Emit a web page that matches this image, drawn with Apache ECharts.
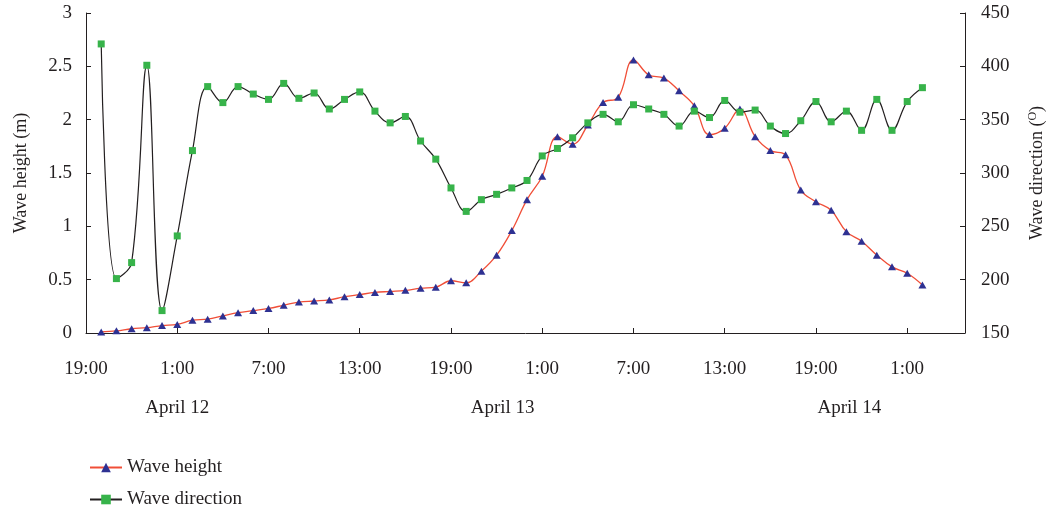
<!DOCTYPE html>
<html>
<head>
<meta charset="utf-8">
<script src="https://cdn.jsdelivr.net/npm/echarts@6/dist/echarts.min.js"></script>
<style>
html,body{margin:0;padding:0;background:#fff;}
#c{width:1046px;height:513px;}
</style>
</head>
<body>
<div id="c"></div>
<script>
// hours elapsed since 19:00 April 11
const hours = [1,2,3,4,5,6,7,8,9,10,11,12,13,14,15,16,17,18,19,20,21,22,23,24,25,26,27,28,29,30,31,32,33,34,35,36,37,38,39,40,41,42,43,44,45,46,47,48,49,50,51,52,53,54,55];
const waveHeight = [0.01,0.02,0.04,0.05,0.07,0.08,0.12,0.13,0.16,0.19,0.21,0.23,0.26,0.29,0.30,0.31,0.34,0.36,0.38,0.39,0.40,0.42,0.43,0.49,0.47,0.58,0.73,0.96,1.25,1.47,1.84,1.77,1.95,2.16,2.21,2.56,2.42,2.39,2.27,2.13,1.86,1.92,2.10,1.84,1.71,1.67,1.34,1.23,1.15,0.95,0.86,0.73,0.62,0.56,0.45];
const waveDirection = [421,201,216,401,171,241,321,381,366,381,374,369,384,370,375,360,369,376,358,347,353,330,313,286,264,275,280,286,293,316,323,333,347,355,348,364,360,355,344,358,352,368,357,359,344,337,349,367,348,358,340,369,340,367,380];
const tickLabels = ['19:00','1:00','7:00','13:00','19:00','1:00','7:00','13:00','19:00','1:00'];
const dayLabels = ['April 12','April 13','April 14'];
const dayLabelHours = [6,27.4,50.2];

const FONT = 'Liberation Serif';
const TXT = '#231F20';
const chart = echarts.init(document.getElementById('c'));

const legendBase = {
  orient: 'vertical', left: 84, itemWidth: 32, itemHeight: 12,
  textStyle: {fontFamily: FONT, fontSize: 19, color: TXT}
};

const option = {
  animation: false,
  backgroundColor: '#fff',
  textStyle: {fontFamily: FONT, color: TXT},
  grid: {left: 86, right: 81, top: 13, bottom: 180, outerBoundsMode: 'none', containLabel: false},
  legend: [
    Object.assign({}, legendBase, {top: 453, data: ['Wave height']}),
    Object.assign({}, legendBase, {top: 485, data: ['Wave direction']})
  ],
  xAxis: {
    type: 'value', min: 0, max: 57.8, interval: 6,
    axisLine: {lineStyle: {color: TXT, width: 1}},
    axisTick: {inside: true, length: 5, lineStyle: {color: TXT}},
    splitLine: {show: false},
    axisLabel: {
      showMaxLabel: false, margin: 27, fontSize: 19, fontFamily: FONT, color: TXT,
      formatter: v => (Math.abs(v % 6) < 1e-6 ? (tickLabels[Math.round(v / 6)] || '') : '')
    }
  },
  yAxis: [
    {
      type: 'value', min: 0, max: 3, interval: 0.5,
      name: 'Wave height (m)', nameLocation: 'middle', nameGap: 56, nameRotate: 90,
      nameTextStyle: {fontFamily: FONT, fontSize: 18, color: TXT},
      axisLine: {show: true, lineStyle: {color: TXT}},
      axisTick: {show: true, inside: true, length: 5, lineStyle: {color: TXT}},
      splitLine: {show: false},
      axisLabel: {margin: 14, fontSize: 19, fontFamily: FONT, color: TXT}
    },
    {
      type: 'value', min: 150, max: 450, interval: 50, position: 'right',
      name: 'Wave direction ({sup|O})', nameLocation: 'middle', nameGap: 62, nameRotate: 90,
      nameTextStyle: {fontFamily: FONT, fontSize: 18, color: TXT,
        rich: {sup: {fontFamily: FONT, fontSize: 12, color: TXT, padding: [0, 0, 8, 0]}}},
      axisLine: {show: true, lineStyle: {color: TXT}},
      axisTick: {show: true, inside: true, length: 5, lineStyle: {color: TXT}},
      splitLine: {show: false},
      axisLabel: {margin: 16, fontSize: 19, fontFamily: FONT, color: TXT}
    }
  ],
  series: [
    {
      name: 'Wave height', type: 'line', yAxisIndex: 0, smooth: 0.4,
      symbol: 'triangle', symbolSize: [8, 7],
      lineStyle: {color: '#F04E37', width: 1.3},
      itemStyle: {color: '#2E3192', borderWidth: 0},
      data: hours.map((h, i) => [h, waveHeight[i]])
    },
    {
      name: 'Wave direction', type: 'line', yAxisIndex: 1, smooth: 0.4,
      symbol: 'rect', symbolSize: 7,
      lineStyle: {color: '#231F20', width: 1.2},
      itemStyle: {color: '#37B34A', borderWidth: 0},
      data: hours.map((h, i) => [h, waveDirection[i]])
    }
  ]
};
chart.setOption(option);

const graphics = dayLabels.map((t, i) => ({
  type: 'text',
  x: chart.convertToPixel({xAxisIndex: 0}, dayLabelHours[i]),
  y: 408,
  style: {text: t, fontFamily: FONT, fontSize: 19, fill: TXT, align: 'center', verticalAlign: 'middle'}
}));
chart.setOption({graphic: graphics});
</script>
</body>
</html>
